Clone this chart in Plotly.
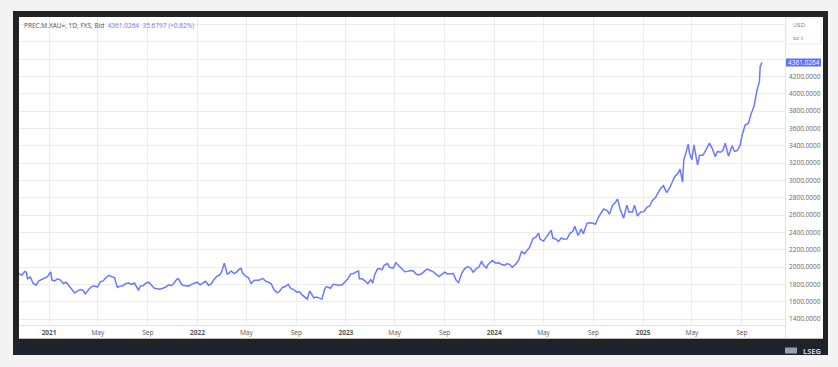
import plotly.graph_objects as go

dates = [
"2020-10-19","2020-10-26","2020-11-02","2020-11-06","2020-11-09","2020-11-16","2020-11-23","2020-11-30",
"2020-12-07","2020-12-14","2020-12-21","2020-12-28","2021-01-05","2021-01-08","2021-01-15","2021-01-22",
"2021-01-29","2021-02-05","2021-02-12","2021-02-19","2021-02-26","2021-03-05","2021-03-12","2021-03-19",
"2021-03-26","2021-03-31","2021-04-09","2021-04-16","2021-04-23","2021-04-30","2021-05-07","2021-05-14",
"2021-05-21","2021-05-28","2021-06-04","2021-06-11","2021-06-18","2021-06-25","2021-07-02","2021-07-09",
"2021-07-16","2021-07-23","2021-07-30","2021-08-06","2021-08-09","2021-08-13","2021-08-20","2021-08-27",
"2021-09-03","2021-09-10","2021-09-17","2021-09-24","2021-09-30","2021-10-08","2021-10-15","2021-10-22",
"2021-10-29","2021-11-05","2021-11-12","2021-11-16","2021-11-22","2021-11-26","2021-12-03","2021-12-10",
"2021-12-17","2021-12-24","2021-12-31","2022-01-07","2022-01-14","2022-01-21","2022-01-28","2022-02-04",
"2022-02-11","2022-02-18","2022-02-24","2022-03-01","2022-03-08","2022-03-11","2022-03-15","2022-03-18",
"2022-03-25","2022-04-01","2022-04-08","2022-04-14","2022-04-18","2022-04-22","2022-04-29","2022-05-06",
"2022-05-13","2022-05-20","2022-05-27","2022-06-03","2022-06-10","2022-06-17","2022-06-24","2022-07-01",
"2022-07-08","2022-07-15","2022-07-21","2022-07-29","2022-08-05","2022-08-12","2022-08-19","2022-08-26",
"2022-09-02","2022-09-09","2022-09-16","2022-09-23","2022-09-28","2022-10-04","2022-10-14","2022-10-21",
"2022-10-28","2022-11-03","2022-11-10","2022-11-15","2022-11-24","2022-12-01","2022-12-09","2022-12-16",
"2022-12-23","2022-12-30","2023-01-06","2023-01-13","2023-01-20","2023-01-26","2023-02-01","2023-02-03",
"2023-02-10","2023-02-17","2023-02-24","2023-03-03","2023-03-08","2023-03-13","2023-03-20","2023-03-24",
"2023-03-31","2023-04-05","2023-04-13","2023-04-19","2023-04-28","2023-05-04","2023-05-12","2023-05-19",
"2023-05-26","2023-06-02","2023-06-09","2023-06-16","2023-06-23","2023-06-29","2023-07-07","2023-07-14",
"2023-07-20","2023-07-28","2023-08-04","2023-08-11","2023-08-18","2023-08-25","2023-09-01","2023-09-08",
"2023-09-15","2023-09-22","2023-09-29","2023-10-05","2023-10-13","2023-10-20","2023-10-27","2023-11-03",
"2023-11-10","2023-11-17","2023-11-24","2023-12-01","2023-12-04","2023-12-08","2023-12-13","2023-12-15",
"2023-12-22","2023-12-27","2024-01-05","2024-01-12","2024-01-19","2024-01-26","2024-02-02","2024-02-09",
"2024-02-14","2024-02-23","2024-03-01","2024-03-08","2024-03-15","2024-03-21","2024-03-28","2024-04-05",
"2024-04-12","2024-04-19","2024-04-23","2024-05-01","2024-05-10","2024-05-20","2024-05-24","2024-05-31",
"2024-06-07","2024-06-14","2024-06-21","2024-06-28","2024-07-05","2024-07-12","2024-07-17","2024-07-25",
"2024-08-02","2024-08-07","2024-08-16","2024-08-23","2024-08-30","2024-09-06","2024-09-13","2024-09-20",
"2024-09-26","2024-10-04","2024-10-10","2024-10-18","2024-10-23","2024-10-30","2024-11-06","2024-11-14",
"2024-11-22","2024-11-27","2024-12-06","2024-12-11","2024-12-18","2024-12-26","2025-01-03","2025-01-10",
"2025-01-17","2025-01-24","2025-01-31","2025-02-07","2025-02-12","2025-02-20","2025-02-28","2025-03-07",
"2025-03-14","2025-03-20","2025-03-28","2025-04-02","2025-04-08","2025-04-11","2025-04-17","2025-04-22",
"2025-04-25","2025-05-01","2025-05-06","2025-05-15","2025-05-20","2025-05-28","2025-06-05","2025-06-13",
"2025-06-20","2025-06-27","2025-07-03","2025-07-10","2025-07-16","2025-07-22","2025-07-30","2025-08-05",
"2025-08-08","2025-08-14","2025-08-20","2025-08-27","2025-09-02","2025-09-09","2025-09-17","2025-09-23",
"2025-10-01","2025-10-08","2025-10-14","2025-10-16","2025-10-17","2025-10-20",
]

prices = [
1925,1905,1950,1940,1865,1885,1810,1790,
1840,1860,1875,1890,1945,1850,1840,1865,
1850,1810,1825,1780,1735,1700,1725,1740,
1730,1690,1745,1775,1780,1770,1830,1840,
1880,1905,1890,1875,1765,1780,1785,1810,
1815,1800,1815,1765,1730,1780,1785,1815,
1825,1790,1755,1750,1745,1755,1770,1795,
1785,1820,1865,1860,1805,1790,1785,1780,
1800,1810,1825,1795,1815,1835,1790,1805,
1860,1895,1905,1940,2045,1985,1920,1925,
1955,1925,1945,1975,1985,1930,1895,1880,
1810,1845,1850,1850,1870,1840,1825,1810,
1740,1705,1715,1765,1775,1800,1750,1740,
1710,1715,1675,1645,1630,1725,1645,1655,
1645,1630,1750,1775,1755,1800,1795,1790,
1795,1825,1865,1920,1925,1945,1955,1865,
1865,1840,1810,1855,1815,1915,1980,1980,
1970,2020,2040,1995,1990,2050,2010,1975,
1945,1950,1960,1955,1920,1910,1925,1955,
1975,1960,1945,1915,1890,1915,1940,1920,
1925,1925,1850,1820,1930,1980,2005,1990,
1940,1980,2000,2070,2030,2005,1985,2020,
2055,2075,2045,2050,2030,2020,2040,2025,
1995,2035,2080,2180,2155,2185,2230,2330,
2345,2390,2320,2300,2360,2425,2335,2325,
2295,2335,2320,2325,2390,2410,2470,2365,
2440,2385,2505,2510,2505,2495,2575,2620,
2670,2655,2610,2715,2735,2785,2660,2565,
2715,2635,2635,2715,2590,2635,2640,2690,
2705,2770,2800,2860,2900,2940,2860,2910,
2985,3045,3085,3130,2980,3235,3330,3420,
3320,3240,3410,3180,3290,3290,3355,3430,
3370,3275,3335,3325,3345,3430,3280,3380,
3400,3335,3345,3395,3530,3640,3660,3760,
3860,4040,4140,4320,4325,4361.0264,
]

tick_dates = ["2021-01-01","2021-05-01","2021-09-01","2022-01-01","2022-05-01","2022-09-01",
              "2023-01-01","2023-05-01","2023-09-01","2024-01-01","2024-05-01","2024-09-01",
              "2025-01-01","2025-05-01","2025-09-01"]
tick_labels = ["<b>2021</b>","May","Sep","<b>2022</b>","May","Sep","<b>2023</b>","May","Sep",
               "<b>2024</b>","May","Sep","<b>2025</b>","May","Sep"]
y_ticks = [1400,1600,1800,2000,2200,2400,2600,2800,3000,3200,3400,3600,3800,4000,4200,4400,4600,4800]
y_labels = [f"{v:.4f}" if v <= 4200 else "" for v in y_ticks]

title_name = "PREC.M.XAU=, 1D, FXS, Bid"
last_text = "4361.0264&nbsp;&nbsp;35.6797 (+0.82%)"
last_price_label = "4361.0264"

W, H = 838, 367
L, R, T, B = 19, 785, 17, 325  # plot area in px

def px(x):
    return (x - L) / (R - L)

def py(y):
    return (B - y) / (B - T)

LINE = "#6b78ff"

fig = go.Figure()
fig.add_trace(go.Scatter(x=dates, y=prices, mode="lines",
                         line=dict(color=LINE, width=1.5), hoverinfo="skip"))

shapes = [
    dict(type="rect", xref="paper", yref="paper", x0=px(13), x1=px(828), y0=py(355), y1=py(11),
         fillcolor="#222222", line=dict(width=0), layer="below"),
    dict(type="rect", xref="paper", yref="paper", x0=px(13), x1=px(828), y0=py(355), y1=py(345),
         fillcolor="#1e2331", line=dict(width=0), layer="below"),
    dict(type="rect", xref="paper", yref="paper", x0=px(19), x1=px(823), y0=py(339), y1=py(17),
         fillcolor="#ffffff", line=dict(width=0), layer="below"),
    dict(type="line", xref="paper", yref="paper", x0=px(19), x1=px(823), y0=py(338.5), y1=py(338.5),
         line=dict(color="#bdbdbd", width=1)),
    dict(type="line", xref="paper", yref="paper", x0=px(785.5), x1=px(785.5), y0=py(338), y1=py(17),
         line=dict(color="#e3e3e3", width=1)),
    dict(type="line", xref="paper", yref="paper", x0=px(19), x1=px(785), y0=py(325.5), y1=py(325.5),
         line=dict(color="#e3e3e3", width=1)),
    dict(type="rect", xref="paper", yref="paper", x0=px(786), x1=px(821), y0=py(44), y1=py(18),
         fillcolor="#ffffff", line=dict(color="#ececec", width=1)),
    dict(type="rect", xref="paper", yref="paper", x0=px(786), x1=px(821), y0=py(66.5), y1=py(58.5),
         fillcolor="#5d6dff", line=dict(width=0)),
    dict(type="rect", xref="paper", yref="paper", x0=px(785), x1=px(797), y0=py(353.5), y1=py(347.5),
         fillcolor="#9aa0ad", line=dict(width=0)),
]

ann = [
    dict(x=px(22), y=py(25), xref="paper", yref="paper", xanchor="left", yanchor="middle",
         showarrow=False, font=dict(size=6.5, color="#555555"),
         text=f"{title_name}&nbsp;&nbsp;<span style='color:{LINE}'>{last_text}</span>"),
    dict(x=px(803.5), y=py(62.5), xref="paper", yref="paper", xanchor="center", yanchor="middle",
         showarrow=False, font=dict(size=6.5, color="#ffffff"), text=last_price_label),
    dict(x=px(791), y=py(25), xref="paper", yref="paper", xanchor="left", yanchor="middle",
         showarrow=False, font=dict(size=6, color="#777777"), text="USD"),
    dict(x=px(791), y=py(38), xref="paper", yref="paper", xanchor="left", yanchor="middle",
         showarrow=False, font=dict(size=6, color="#777777"), text="oz t"),
    dict(x=px(823), y=py(350.5), xref="paper", yref="paper", xanchor="right", yanchor="middle",
         showarrow=False, font=dict(size=7.5, color="#c9cdd6", family="Open Sans"), text="<b>LSEG</b>"),
]

fig.update_layout(
    width=W, height=H,
    margin=dict(l=L, r=W - R, t=T, b=H - B, pad=0),
    paper_bgcolor="#f3f3f3", plot_bgcolor="#ffffff",
    showlegend=False,
    font=dict(family="Open Sans", size=6.5, color="#555555"),
    shapes=shapes, annotations=ann,
    xaxis=dict(range=["2020-10-19", "2025-12-16"], tickmode="array", tickvals=tick_dates,
               ticktext=tick_labels, showgrid=True, gridcolor="#ececec", gridwidth=1,
               zeroline=False, showline=False, ticks="", tickfont=dict(size=6.5, color="#555555"),
               ticklabelstandoff=2),
    yaxis=dict(range=[1331, 4887], side="right", tickmode="array", tickvals=y_ticks,
               ticktext=y_labels, showgrid=True, gridcolor="#ececec", gridwidth=1,
               zeroline=False, showline=False, ticks="", tickfont=dict(size=6.5, color="#666666"),
               ticklabelstandoff=3),
)

fig.write_html("out.html", config={"displayModeBar": False},
               post_script="document.body.style.margin='0';document.body.style.background='#f3f3f3';")
